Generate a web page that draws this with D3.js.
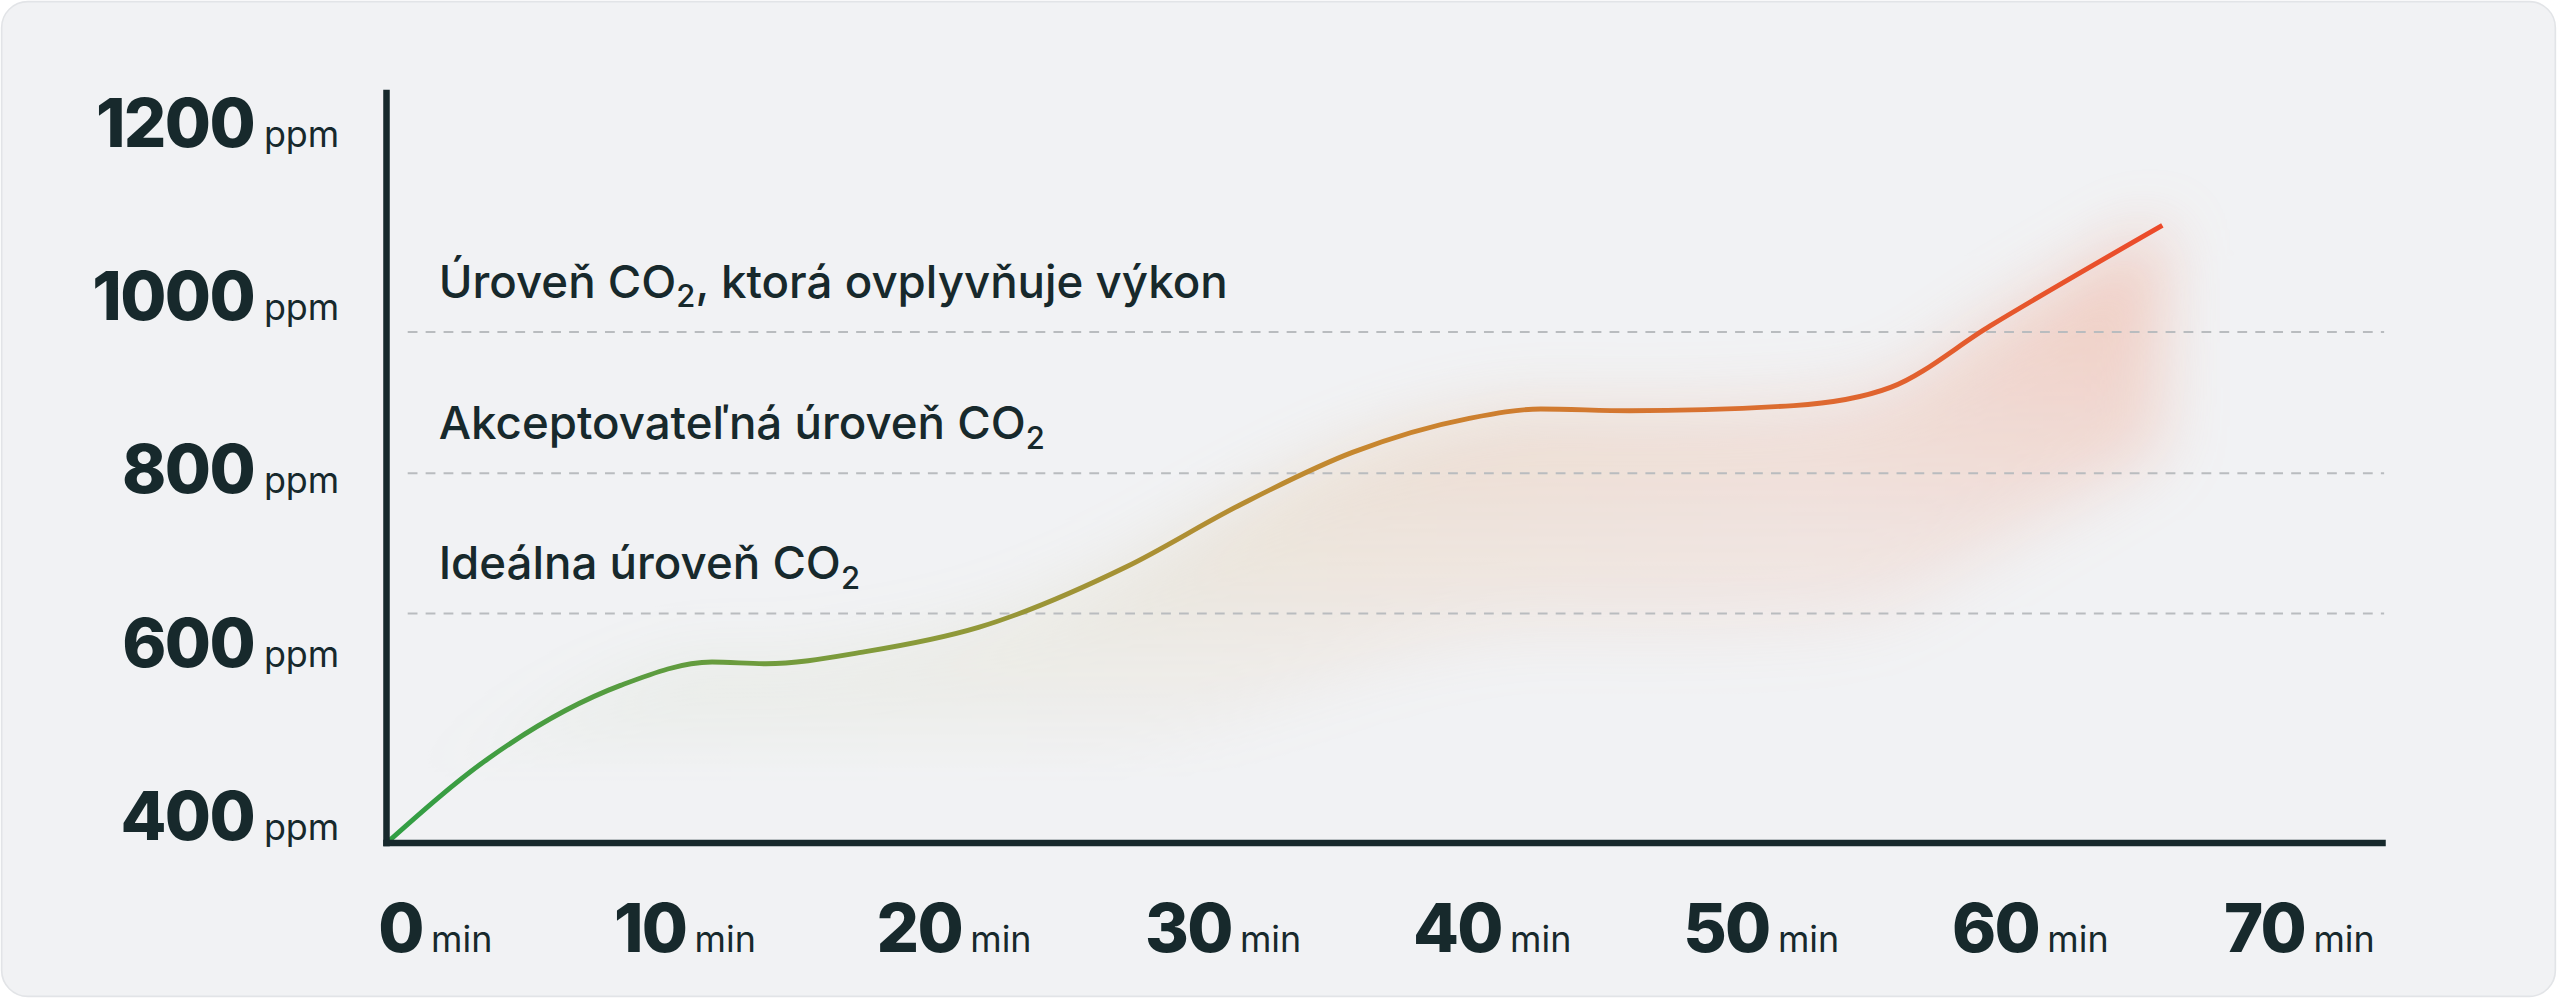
<!DOCTYPE html>
<html><head><meta charset="utf-8">
<script src="https://cdn.jsdelivr.net/npm/d3@7"></script>
<style>html,body{margin:0;padding:0;background:#fff;overflow:hidden}</style>
</head><body>
<svg id="c" width="2557" height="998" viewBox="0 0 1568 612"></svg>
<script>
const minutes = [0, 3.8, 8.7, 12.1, 14.1, 17.8, 22, 27.5, 31.7, 35.9, 40.2, 42.9, 46.2, 52.3, 55.9, 59.6, 66];
const ppm =     [400, 498, 582, 609, 607, 621, 649, 719, 790, 851, 890, 901, 899, 905, 926, 997, 1113];
const yTicks = [400, 600, 800, 1000, 1200];
const xTicks = [0, 10, 20, 30, 40, 50, 60, 70];
const thresholds = [990, 827, 665];
const thresholdLabels = [["Úroveň CO", "2", ", ktorá ovplyvňuje výkon"], ["Akceptovateľná úroveň CO", "2", ""], ["Ideálna úroveň CO", "2", ""]];

const svg = d3.select("#c");
const dark = "#17292c";
const font = "Inter, 'Open Sans', sans-serif";
svg.append("rect").attr("x",1).attr("y",1).attr("width",1566).attr("height",610).attr("rx",16)
  .attr("fill","#f1f2f4").attr("stroke","#e2e4e7");

const x = d3.scaleLinear().domain([0,70]).range([237,1392]);
const y = d3.scaleLinear().domain([400,1200]).range([517,92]);
const data = minutes.map((m,i)=>({m, v:ppm[i]}));

const defs = svg.append("defs");
const lg = defs.append("linearGradient").attr("id","lg").attr("gradientUnits","userSpaceOnUse")
  .attr("x1",x(0)).attr("x2",x(66)).attr("y1",0).attr("y2",0);
[[0,"#2f9e44"],[0.3,"#8a9a3a"],[0.55,"#c7872f"],[0.8,"#dd6a30"],[1,"#ec4a2a"]].forEach(s=>lg.append("stop").attr("offset",s[0]).attr("stop-color",s[1]));
const fg = defs.append("linearGradient").attr("id","fg").attr("gradientUnits","userSpaceOnUse")
  .attr("x1",x(0)).attr("x2",x(66)).attr("y1",0).attr("y2",0);
[[0,"#6aa64a"],[0.3,"#b0ad5a"],[0.55,"#dea36a"],[0.8,"#eca080"],[1,"#f08a6a"]].forEach(s=>fg.append("stop").attr("offset",s[0]).attr("stop-color",s[1]));
const vm = defs.append("linearGradient").attr("id","vm").attr("x1",0).attr("x2",0).attr("y1",0).attr("y2",1);
vm.append("stop").attr("offset",0).attr("stop-color","#fff").attr("stop-opacity",0.65);
vm.append("stop").attr("offset",1).attr("stop-color","#fff").attr("stop-opacity",0);
defs.append("mask").attr("id","mk").attr("maskUnits","userSpaceOnUse").attr("x",0).attr("y",0).attr("width",1568).attr("height",612)
  .append("rect").attr("x",0).attr("y",60).attr("width",1568).attr("height",420).attr("fill","url(#vm)");
defs.append("filter").attr("id","bl").attr("x","-20%").attr("y","-20%").attr("width","140%").attr("height","140%")
  .append("feGaussianBlur").attr("stdDeviation",20);

const curve = d3.curveMonotoneX;
const area = d3.area().x(d=>x(d.m)).y0(d=>y(d.v)+140).y1(d=>y(d.v)).curve(curve);
svg.append("g").attr("mask","url(#mk)").append("path").datum(data).attr("d",area)
  .attr("fill","url(#fg)").attr("filter","url(#bl)").attr("opacity",0.75);

thresholds.forEach((t,i)=>{
  svg.append("line").attr("x1",250).attr("x2",1462).attr("y1",y(t)).attr("y2",y(t))
    .attr("stroke","#b9bcbf").attr("stroke-width",1.2).attr("stroke-dasharray","6,5");
  const tx = svg.append("text").attr("x",269).attr("y",y(t)-21).attr("fill",dark)
    .attr("font-family",font).attr("font-size",28).attr("font-weight",500);
  const l = thresholdLabels[i];
  tx.append("tspan").text(l[0]);
  tx.append("tspan").attr("font-size",19).attr("dy",6).text(l[1]);
  tx.append("tspan").attr("dy",-6).text(l[2]);
});

svg.append("path").datum(data).attr("d",d3.line().x(d=>x(d.m)).y(d=>y(d.v)).curve(curve))
  .attr("fill","none").attr("stroke","url(#lg)").attr("stroke-width",3);

svg.append("line").attr("x1",237).attr("x2",237).attr("y1",55).attr("y2",519).attr("stroke",dark).attr("stroke-width",4);
svg.append("line").attr("x1",235).attr("x2",1463).attr("y1",517).attr("y2",517).attr("stroke",dark).attr("stroke-width",4);

yTicks.forEach(t=>{
  const tx = svg.append("text").attr("x",208).attr("y",y(t)-2).attr("text-anchor","end").attr("fill",dark).attr("font-family",font);
  tx.append("tspan").attr("font-size",41).attr("font-weight",800).attr("letter-spacing",-1).text(t);
  tx.append("tspan").attr("font-size",22).attr("dx",6).text("ppm");
});
xTicks.forEach(t=>{
  const tx = svg.append("text").attr("y",584).attr("fill",dark).attr("font-family",font);
  if (t===0) tx.attr("x",232); else tx.attr("x",x(t)+18).attr("text-anchor","middle");
  tx.append("tspan").attr("font-size",41).attr("font-weight",800).attr("letter-spacing",-1).text(t);
  tx.append("tspan").attr("font-size",22).attr("dx",5).text("min");
});
</script>
</body></html>
